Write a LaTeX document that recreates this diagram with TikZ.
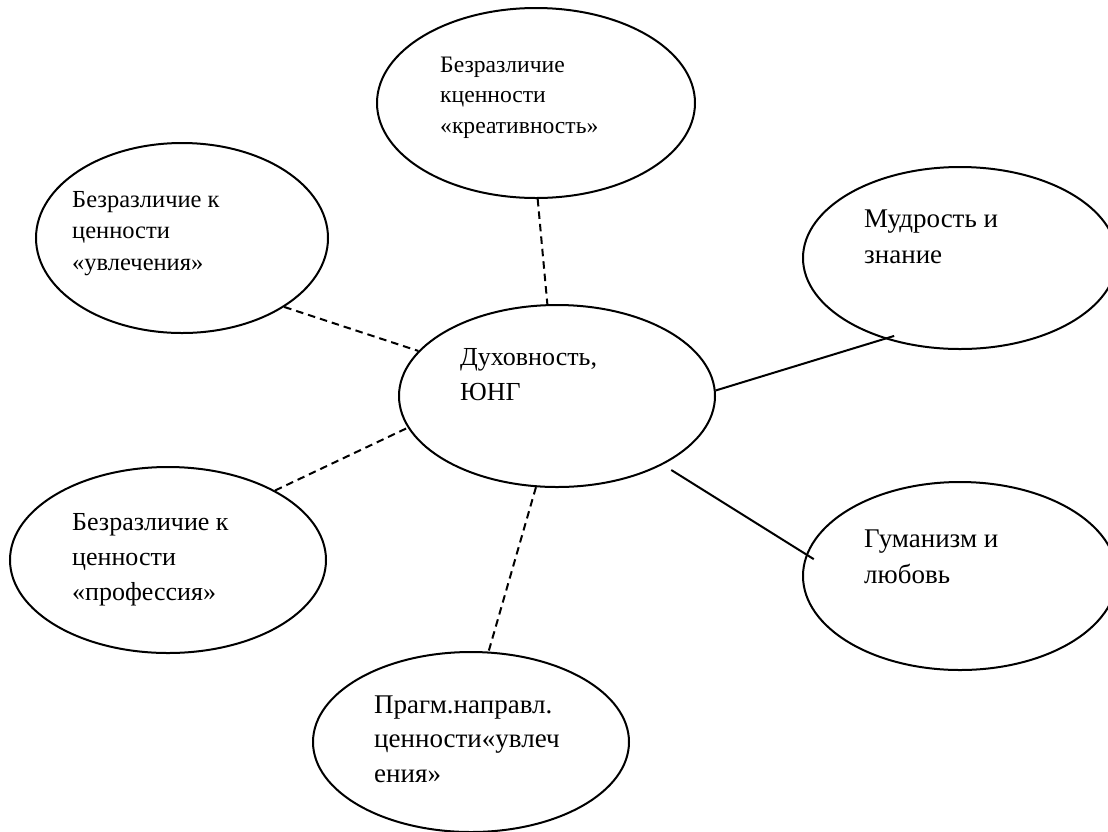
\documentclass[tikz,border=0pt]{standalone}
\usepackage{fontspec}
\setmainfont{Liberation Serif}
\newfontfamily\tnr{Liberation Serif}
\usetikzlibrary{shapes.geometric}
\newcommand{\lns}[1]{\begin{tabular}[t]{@{}l@{}}#1\end{tabular}}
\tikzset{
  oval/.style={draw, ellipse, line width=2pt, inner sep=0pt},
  txt/.style={anchor=base west, inner sep=0pt},
  fs/.style={font=\tnr\fontsize{23.6}{30.5}\selectfont},
  fm/.style={font=\tnr\fontsize{26}{35}\selectfont},
  fl/.style={font=\tnr\fontsize{27}{36}\selectfont},
  dashlink/.style={line width=2pt, dash pattern=on 7.5pt off 5pt},
  solidlink/.style={line width=2pt},
}
\begin{document}
\begin{tikzpicture}[x=1pt,y=-1pt]
\useasboundingbox (0,0) rectangle (1108,831);
% ellipses
\node[oval, minimum width=318pt, minimum height=190pt] (t) at (536,103) {};
\node[oval, minimum width=292pt, minimum height=190pt] (lu) at (182,238) {};
\node[oval, minimum width=314pt, minimum height=182pt] (ru) at (960,258) {};
\node[oval, minimum width=316pt, minimum height=182pt] (c) at (557,396) {};
\node[oval, minimum width=316pt, minimum height=186pt] (ll) at (168,560) {};
\node[oval, minimum width=314pt, minimum height=188pt] (rl) at (960,576) {};
\node[oval, minimum width=316pt, minimum height=180pt] (b) at (471,742) {};
% texts
\node[txt, fs] (tt) at (440,72) {\lns{Безразличие\\кценности\\«креативность»}};
\node[txt, font=\tnr\fontsize{24.5}{31.5}\selectfont] (tlu) at (72,207) {\lns{Безразличие к\\ценности\\«увлечения»}};
\node[txt, fm] (tc) at (460,365) {\lns{Духовность,\\ЮНГ}};
\node[txt, fl] (tru) at (864,227) {\lns{Мудрость и\\знание}};
\node[txt, fl] (trl) at (864,547) {\lns{Гуманизм и\\любовь}};
\node[txt, fm] (tll) at (72,530) {\lns{Безразличие к\\ценности\\«профессия»}};
\node[txt, font=\tnr\fontsize{27}{34.5}\selectfont] (tb) at (374,713) {\lns{Прагм.направл.\\ценности«увлеч\\ения»}};
% connectors
\draw[dashlink] (t.-89.4) -- (c.96.7);
\draw[dashlink] (lu.-34.9) -- (c.162.3);
\draw[dashlink] (ll.33.6) -- (c.192.4);
\draw[dashlink] (c.257.6) -- (b.79.3);
\draw[solidlink, shorten >=-10pt] (c.2.5) -- (ru.227.4);
\draw[solidlink, shorten <=10pt, shorten >=-9pt] (c.-33.2) -- (rl.172.5);
\end{tikzpicture}
\end{document}
